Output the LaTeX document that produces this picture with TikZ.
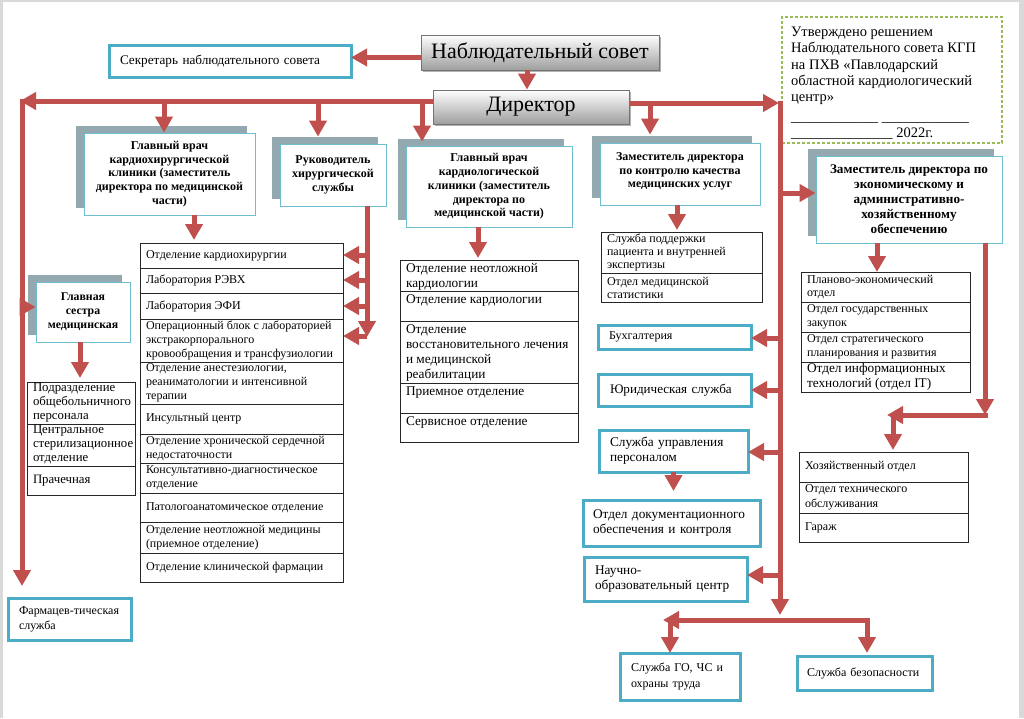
\documentclass[tikz,border=0pt]{standalone}
\usepackage{fontspec}
\setmainfont{Liberation Serif}
\usetikzlibrary{arrows.meta,shadows}
\definecolor{redc}{HTML}{C0504D}
\definecolor{tealc}{HTML}{4BACC6}
\definecolor{shgray}{HTML}{93A9AF}
\definecolor{greenc}{HTML}{9BBB59}
\definecolor{pageg}{HTML}{D9D9D9}
\definecolor{cellc}{HTML}{262626}
\newcommand\fs[2]{\fontsize{#1}{#2}\selectfont}
\newcommand\orgrow[6]{\node[cell] (#1) at (#2) {\parbox[c][#4][#5]{#3}{\raggedright #6}};}
\tikzset{
  arr/.style={draw=redc, line width=5pt, -{Triangle[length=16pt,width=17pt]}},
  gbox/.style={draw=black!55, line width=0.8pt, top color=white, bottom color=black!38, inner sep=0pt,
    drop shadow={shadow xshift=2pt, shadow yshift=-2pt, opacity=0.3, fill=black}},
  sbox/.style={draw=tealc!80, line width=0.8pt, fill=white, align=center, inner sep=0pt,
    font=\bfseries\fs{12}{13.7},
    drop shadow={shadow xshift=-8pt, shadow yshift=7.5pt, fill=shgray, opacity=1}},
  tbox/.style={draw=tealc, line width=3pt, fill=white, align=left, inner ysep=0pt, outer sep=0pt},
  cell/.style={draw=cellc, line width=0.8pt, fill=white, anchor=north west, inner xsep=6pt, inner ysep=0pt, outer sep=0pt},
}
\begin{document}
\begin{tikzpicture}[x=1pt,y=-1pt]
\useasboundingbox (0,0) rectangle (1024,718);
\fill[pageg] (0,0) rectangle (1024,718);
\fill[white] (3,2) rectangle (1019,718);

% top boxes
\node[gbox, minimum width=238pt, minimum height=35pt, font=\fs{22}{26}] (ns) at (540,52.5) {Наблюдательный совет};
\node[gbox, minimum width=196pt, minimum height=34pt, font=\fs{22}{26}] (dir) at (531,107) {Директор};
\node[tbox, minimum height=32pt, inner xsep=11pt, text width=220pt, font=\fs{13.2}{15}] (sec) at (230,61) {Секретарь наблюдательного совета};

% approval
\node[draw=greenc, line width=1.2pt, dash pattern=on 3pt off 2pt, minimum width=220pt, minimum height=126pt, inner sep=0pt] (appr) at (892,80) {};
\node[anchor=north west, align=left, inner sep=0pt, font=\fs{14.5}{16.3}] (apprt) at (791,27) {Утверждено решением\\Наблюдательного совета КГП\\на ПХВ «Павлодарский\\областной кардиологический\\центр»\\[3pt]\_\_\_\_\_\_\_\_\_\_\_\_ \_\_\_\_\_\_\_\_\_\_\_\_\\[0.5pt]\_\_\_\_\_\_\_\_\_\_\_\_\_\_ 2022г.};

% shadowed boxes
\node[sbox, minimum width=171pt, minimum height=82pt] (gvkh) at (169.5,174) {Главный врач\\кардиохирургической\\клиники (заместитель\\директора по медицинской\\части)};
\node[sbox, minimum width=106pt, minimum height=62pt] (ruk) at (333,175) {Руководитель\\хирургической\\службы};
\node[sbox, minimum width=166pt, minimum height=81pt] (gvk) at (489,186.5) {Главный врач\\кардиологической\\клиники (заместитель\\директора по\\медицинской части)};
\node[sbox, minimum width=160pt, minimum height=62pt] (qc) at (680,174) {Заместитель директора\\по контролю качества\\медицинских услуг\\[-6pt]\mbox{}};
\node[sbox, minimum width=186pt, minimum height=87pt, font=\bfseries\fs{13.2}{15}] (econ) at (909,199.5) {Заместитель директора по\\экономическому и\\административно-\\хозяйственному\\обеспечению};
\node[sbox, minimum width=94pt, minimum height=60pt, font=\bfseries\fs{11.8}{14}] (gs) at (83,312) {Главная\\сестра\\медицинская};

% list 1
\begin{scope}[cell/.append style={font=\fs{12}{14}}]
\orgrow{l1a}{140,243}{191pt}{25pt}{c}{Отделение кардиохирургии}
\orgrow{l1b}{140,268}{191pt}{25pt}{c}{Лаборатория РЭВХ}
\orgrow{l1c}{140,293}{191pt}{26pt}{c}{Лаборатория ЭФИ}
\orgrow{l1d}{140,319}{191pt}{43pt}{c}{Операционный блок с лабораторией\\экстракорпорального\\кровообращения и трансфузиологии}
\orgrow{l1e}{140,362}{191pt}{42pt}{c}{Отделение анестезиологии,\\реаниматологии и интенсивной\\терапии}
\orgrow{l1f}{140,404}{191pt}{30pt}{c}{Инсультный центр}
\orgrow{l1g}{140,434}{191pt}{29pt}{c}{Отделение хронической сердечной\\недостаточности}
\orgrow{l1h}{140,463}{191pt}{30pt}{c}{Консультативно-диагностическое\\отделение}
\orgrow{l1i}{140,493}{191pt}{29pt}{c}{Патологоанатомическое отделение}
\orgrow{l1j}{140,522}{191pt}{31pt}{c}{Отделение неотложной медицины\\(приемное отделение)}
\orgrow{l1k}{140,553}{191pt}{29pt}{c}{Отделение клинической фармации}
\end{scope}

% list 2
\begin{scope}[cell/.append style={font=\fs{12.8}{14}}]
\orgrow{l2a}{27,382}{96pt}{42pt}{c}{Подразделение\\общебольничного\\персонала}
\orgrow{l2b}{27,424}{96pt}{42pt}{c}{Центральное\\стерилизационное\\отделение}
\orgrow{l2c}{27,466}{96pt}{29pt}{c}{Прачечная}
\end{scope}

% list 3
\begin{scope}[cell/.append style={font=\fs{13.3}{15}}]
\orgrow{l3a}{400,260}{166pt}{31pt}{t}{\rule{0pt}{12pt}Отделение неотложной\\кардиологии}
\orgrow{l3b}{400,291}{166pt}{30pt}{t}{\rule{0pt}{12pt}Отделение кардиологии}
\orgrow{l3c}{400,321}{166pt}{62pt}{t}{\rule{0pt}{12pt}Отделение\\восстановительного лечения\\и медицинской\\реабилитации}
\orgrow{l3d}{400,383}{166pt}{30pt}{t}{\rule{0pt}{12pt}Приемное отделение}
\orgrow{l3e}{400,413}{166pt}{29pt}{t}{\rule{0pt}{12pt}Сервисное отделение}
\end{scope}

% list 4
\begin{scope}[cell/.append style={font=\fs{12}{13}}]
\orgrow{l4a}{601,232}{149pt}{41pt}{c}{Служба поддержки\\пациента и внутренней\\экспертизы}
\orgrow{l4b}{601,273}{149pt}{29pt}{c}{Отдел медицинской\\статистики}
\end{scope}

% list 5
\begin{scope}[cell/.append style={font=\fs{12}{13.5}}]
\orgrow{l5a}{801,272}{157pt}{30pt}{c}{Планово-экономический\\отдел}
\orgrow{l5b}{801,302}{157pt}{30pt}{c}{Отдел государственных\\закупок}
\orgrow{l5c}{801,332}{157pt}{30pt}{c}{Отдел стратегического\\планирования и развития}
\orgrow{l5d}{801,362}{157pt}{30pt}{c}{\fs{13.3}{15}Отдел информационных\\технологий (отдел IT)}
\end{scope}

% list 6
\begin{scope}[cell/.append style={font=\fs{12}{14.5}}]
\orgrow{l6a}{799,452}{157pt}{30pt}{c}{Хозяйственный отдел}
\orgrow{l6b}{799,482}{157pt}{31pt}{c}{Отдел технического\\обслуживания}
\orgrow{l6c}{799,513}{157pt}{29pt}{c}{Гараж}
\end{scope}

% teal boxes
\node[tbox, minimum height=42pt, inner xsep=11pt, text width=101pt, font=\fs{12}{15}] (pharm) at (69.5,619) {Фармацев-тическая\\служба};
\node[tbox, minimum height=24pt, inner xsep=11pt, text width=131pt, font=\fs{12}{14}] (buh) at (674.5,337) {Бухгалтерия};
\node[tbox, minimum height=32pt, inner xsep=12pt, text width=129pt, font=\fs{13.1}{15}] (yur) at (674.5,390) {Юридическая служба};
\node[tbox, minimum height=42pt, inner xsep=11pt, text width=127pt, font=\fs{13.3}{15}] (sup) at (673.5,451) {Служба управления\\персоналом};
\node[tbox, minimum height=46pt, inner xsep=10pt, text width=157pt, font=\fs{13.3}{15}] (odo) at (671.5,523) {Отдел документационного\\обеспечения и контроля};
\node[tbox, minimum height=44pt, inner xsep=11pt, text width=141pt, font=\fs{13.3}{15}] (nou) at (665.5,579) {Научно-\\образовательный центр};
\node[tbox, minimum height=47pt, inner xsep=11pt, text width=98pt, font=\fs{12}{16}] (go) at (680,676.5) {Служба ГО, ЧС и\\охраны труда};
\node[tbox, minimum height=34pt, inner xsep=10pt, text width=115pt, font=\fs{12}{14}] (sb) at (864.5,673) {Служба безопасности};

% connectors
\draw[arr] ([yshift=-5pt]ns.west) coordinate (nsw) -- (nsw -| sec.east);
\draw[arr] ([xshift=-13pt]ns.south) coordinate (nss) -- (nss |- dir.north);

\coordinate (tl) at (20,101);
\draw[arr] (dir.west |- tl) -- (tl);
\coordinate (tlv) at (22,98.5);
\draw[arr, shorten >=12pt] (tlv) -- (tlv |- pharm.north);
\coordinate (gsa) at (22,307);
\draw[arr] (gsa) -- (gsa -| gs.west);
\coordinate (d1) at (164,101);
\draw[arr] (d1) -- (d1 |- gvkh.north);
\coordinate (d2) at (318,101);
\draw[arr, shorten >=7pt] (d2) -- (d2 |- ruk.north);
\coordinate (d3) at (422,101);
\draw[arr, shorten >=4pt] (d3) -- (d3 |- gvk.north);

\coordinate (tr) at (779,103);
\draw[arr] (dir.east |- tr) -- (tr);
\coordinate (trv) at (780,100.5);
\coordinate (bot) at (780,615);
\draw[arr] (trv) -- (bot);
\coordinate (d5) at (650,103);
\draw[arr, shorten >=8pt] (d5) -- (d5 |- qc.north);
\coordinate (ea) at (780,193);
\draw[arr] (ea) -- (ea -| econ.west);
\coordinate (ba) at (780,338);
\draw[arr] (ba) -- (ba -| buh.east);
\coordinate (ya) at (780,390);
\draw[arr] (ya) -- (ya -| yur.east);
\coordinate (sa) at (780,452);
\draw[arr] (sa) -- (sa -| sup.east);
\coordinate (na) at (780,575);
\draw[arr] (na) -- (na -| nou.east);

\coordinate (bl) at (663,620);
\coordinate (br) at (869.5,620);
\draw[arr] (br) -- (bl);
\coordinate (blv) at (670,617.5);
\draw[arr] (blv) -- (blv |- go.north);
\coordinate (brv) at (867,617.5);
\draw[arr, shorten >=3pt] (brv) -- (brv |- sb.north);

\coordinate (rv) at (367,206);
\coordinate (rve) at (367,337);
\draw[arr] (rv) -- (rve);
\foreach \yy/\tg in {255/l1a,280/l1b,306/l1c,336/l1d} {
  \coordinate (ra) at (367,\yy);
  \draw[arr] (ra) -- (ra -| \tg.east);
}

\coordinate (g1) at (194,215);
\draw[arr, shorten >=3pt] (g1) -- (g1 |- l1a.north);
\coordinate (g3) at (478,227);
\draw[arr, shorten >=2pt] (g3) -- (g3 |- l3a.north);
\coordinate (q1) at (677,205);
\draw[arr, shorten >=2pt] (q1) -- (q1 |- l4a.north);
\coordinate (e1) at (877,243);
\draw[arr] (e1) -- (e1 |- l5a.north);
\coordinate (e2) at (985,243);
\coordinate (e3) at (985,415);
\draw[arr] (e2) -- (e3);
\coordinate (e4) at (987.5,415);
\coordinate (e5) at (887,415);
\draw[arr] (e4) -- (e5);
\coordinate (e6) at (893,412.5);
\draw[arr, shorten >=2pt] (e6) -- (e6 |- l6a.north);
\coordinate (s1) at (80,342);
\draw[arr, shorten >=4pt] (s1) -- (s1 |- l2a.north);
\draw[arr, shorten >=9pt] (sup.south) -- (sup.south |- odo.north);
\end{tikzpicture}
\end{document}
